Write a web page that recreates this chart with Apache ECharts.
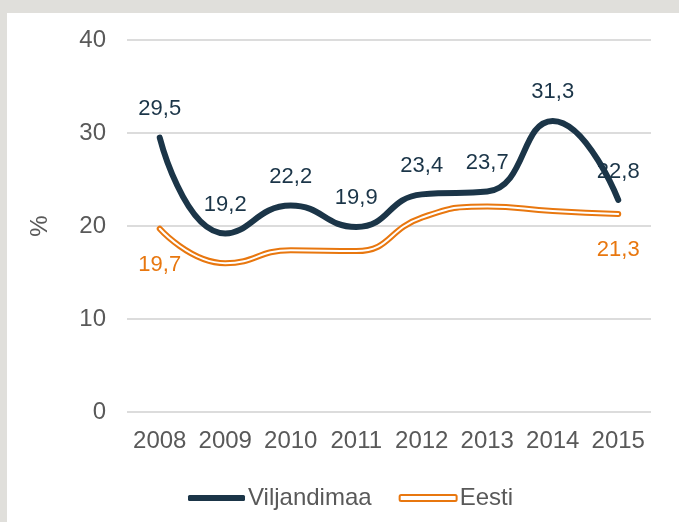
<!DOCTYPE html>
<html>
<head>
<meta charset="utf-8">
<script src="https://cdn.jsdelivr.net/npm/echarts@6/dist/echarts.min.js"></script>
<style>
html,body{margin:0;padding:0;background:#e0dfdb;}
#panel{position:absolute;left:7px;top:13px;right:0;bottom:0;background:#ffffff;}
#c{position:absolute;left:0;top:0;width:679px;height:522px;}
</style>
</head>
<body>
<div id="panel"></div>
<div id="c"></div>
<script>
const years = ['2008','2009','2010','2011','2012','2013','2014','2015'];
const viljandimaa = [29.5, 19.2, 22.2, 19.9, 23.4, 23.7, 31.3, 22.8];
const eesti = [19.7, 16.0, 17.4, 17.3, 20.9, 22.1, 21.6, 21.3];
const eestiLabelled = [0, 7];
const yTicks = [0, 10, 20, 30, 40];

const NAVY = '#1b3548';
const ORANGE = '#e8770f';
const GREY = '#595959';
const FONT = 'Liberation Sans, Arial, sans-serif';

const fmt = v => String(v).replace('.', ',');

const chart = echarts.init(document.getElementById('c'), null, {renderer: 'canvas'});
chart.setOption({
  animation: false,
  backgroundColor: 'transparent',
  textStyle: {fontFamily: FONT},
  grid: {left: 127, right: 28, top: 40, bottom: 110},
  legend: {
    left: 183, top: 481,
    itemWidth: 57, itemHeight: 6, itemGap: 27,
    textStyle: {color: GREY, fontSize: 24, fontFamily: FONT, padding: [0, 0, 0, -2]},
    data: [
      {name: 'Viljandimaa', icon: 'roundRect', itemStyle: {color: NAVY, borderWidth: 0}},
      {name: 'Eesti', icon: 'roundRect', itemStyle: {color: '#ffffff', borderColor: ORANGE, borderWidth: 2}}
    ]
  },
  xAxis: {
    type: 'category', data: years, boundaryGap: true,
    axisLine: {show: false}, axisTick: {show: false},
    axisLabel: {color: GREY, fontSize: 24, fontFamily: FONT, margin: 17, interval: 0}
  },
  yAxis: {
    type: 'value', min: yTicks[0], max: yTicks[yTicks.length - 1], interval: 10,
    name: '%', nameLocation: 'middle', nameGap: 75, nameRotate: 90,
    nameTextStyle: {color: GREY, fontSize: 24, fontFamily: FONT},
    axisLine: {show: false}, axisTick: {show: false},
    axisLabel: {color: GREY, fontSize: 24, fontFamily: FONT, margin: 21},
    splitLine: {lineStyle: {color: '#dcdcdc', width: 2}}
  },
  series: [
    {
      name: 'Eesti', type: 'line', smooth: 0.5, data: eesti.map((v, i) => ({
        value: v,
        label: {show: eestiLabelled.includes(i)}
      })),
      symbol: 'circle', symbolSize: 1, showSymbol: true,
      itemStyle: {color: ORANGE},
      lineStyle: {color: ORANGE, width: 6, cap: 'round', join: 'round'},
      label: {position: 'bottom', distance: 25, color: ORANGE, fontSize: 22, fontFamily: FONT, formatter: p => fmt(p.value)},
      z: 2
    },
    {
      name: 'EestiInner', type: 'line', smooth: 0.5, data: eesti,
      symbol: 'none', silent: true,
      lineStyle: {color: '#ffffff', width: 2, cap: 'round', join: 'round'},
      itemStyle: {color: '#ffffff'},
      z: 3
    },
    {
      name: 'Viljandimaa', type: 'line', smooth: 0.5, data: viljandimaa,
      symbol: 'circle', symbolSize: 1, showSymbol: true,
      itemStyle: {color: NAVY},
      lineStyle: {color: NAVY, width: 6, cap: 'round', join: 'round'},
      label: {show: true, position: 'top', distance: 17, color: NAVY, fontSize: 22, fontFamily: FONT, formatter: p => fmt(p.value)},
      z: 4
    }
  ]
});
</script>
</body>
</html>
